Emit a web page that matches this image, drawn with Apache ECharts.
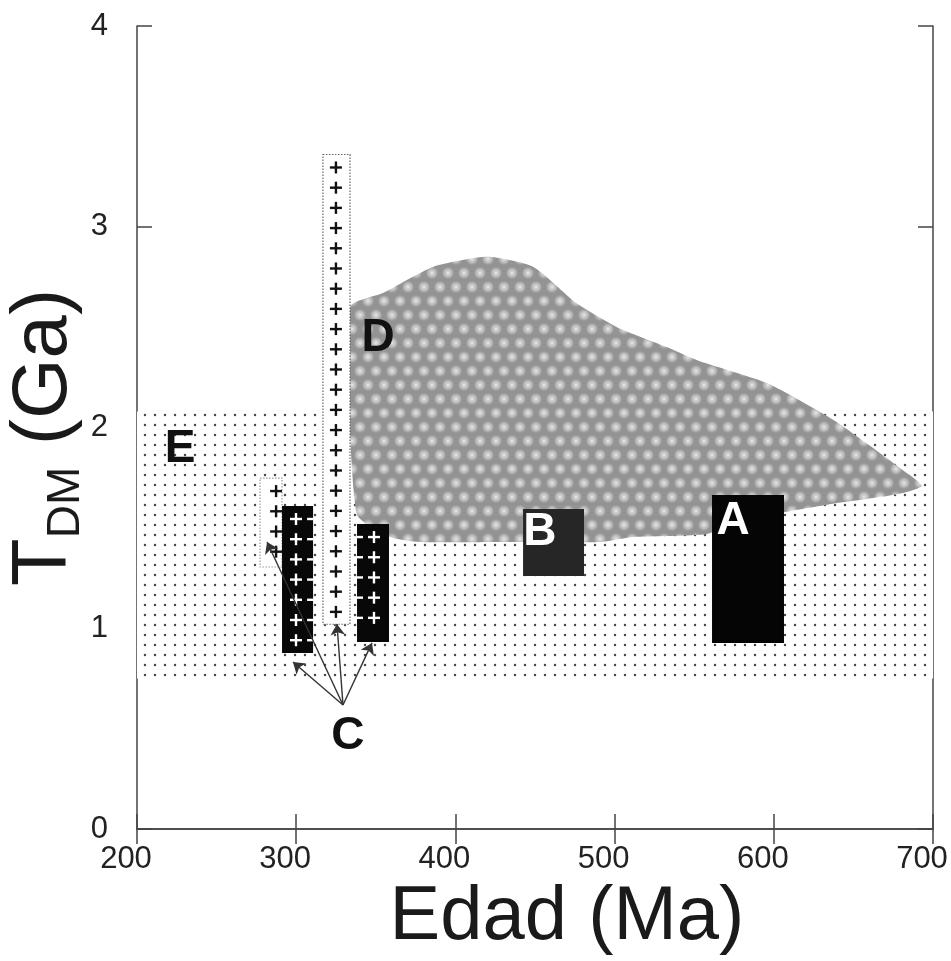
<!DOCTYPE html>
<html><head><meta charset="utf-8">
<script src="https://cdn.jsdelivr.net/npm/echarts@6/dist/echarts.min.js"></script>
<style>html,body{margin:0;padding:0;background:#fff}#chart{width:951px;height:961px}</style>
</head><body><div id="chart"></div>
<script>
// ---- data ----
const xTicks = [200, 300, 400, 500, 600, 700];
const yTicks = [0, 1, 2, 3, 4];
// field E : x range and T_DM range
const zoneEX = [200, 700];
const zoneEY = [0.75, 2.08];
// field D outline (top edge left->right, then bottom edge right->left)
const blobX = [334, 354.5, 386, 420, 449, 476, 501.5, 533, 553.6, 596, 637, 658.5, 679, 693, 679, 637, 608, 585, 558, 511.6, 491, 428, 378, 359, 338];
const blobY = [2.60, 2.67, 2.80, 2.85, 2.80, 2.62, 2.50, 2.40, 2.33, 2.22, 2.04, 1.92, 1.80, 1.71, 1.67, 1.62, 1.58, 1.55, 1.47, 1.455, 1.43, 1.43, 1.43, 1.455, 1.57];
// rectangles: age range (Ma) and T_DM range (Ga)
const boxNames = ['Ctall', 'Csmall', 'A', 'B', 'C1', 'C2'];
const boxAgeMin = [316.8, 277.3, 561.2, 442.5, 291.1, 338.2];
const boxAgeMax = [333.8, 291.1, 606.4, 480.8, 310.6, 358.3];
const boxTdmMin = [1.02, 1.305, 0.927, 1.26, 0.877, 0.931];
const boxTdmMax = [3.36, 1.748, 1.664, 1.594, 1.609, 1.519];
// annotation letters
const labelText = ['A', 'B', 'C', 'D', 'E'];
const labelAge = [574.4, 453.1, 332.5, 351.4, 227];
const labelTdm = [1.534, 1.48, 0.463, 2.446, 1.89];
// arrows from "C" to the C boxes
const arrowFrom = [329.4, 0.618];
const arrowToAge = [281.7, 298, 325.6, 347.6];
const arrowToTdm = [1.43, 0.832, 1.021, 0.927];

// ---- styles ----
const FONT = 'Liberation Sans';
const boxStyle = {
  Ctall:  { fill: '#fff', stroke: '#666', lw: 1.2, dash: [1.5, 1.5], plus: '#111', cols: [0.48] },
  Csmall: { fill: '#fff', stroke: '#999', lw: 1.2, dash: [1.5, 1.5], plus: '#111', cols: [0.73] },
  A:      { fill: '#050505', stroke: null, lw: 0, plus: null, cols: [] },
  B:      { fill: '#262626', stroke: null, lw: 0, plus: null, cols: [] },
  C1:     { fill: '#080808', stroke: null, lw: 0, plus: '#fff', cols: [0.45, 1.0] },
  C2:     { fill: '#080808', stroke: null, lw: 0, plus: '#fff', cols: [0.0, 0.53] }
};
const labelColor = { A: '#fff', B: '#fff', C: '#111', D: '#111', E: '#111' };

function dotPattern() {
  const c = document.createElement('canvas'); c.width = 10; c.height = 10;
  const g = c.getContext('2d');
  g.fillStyle = '#fff'; g.fillRect(0, 0, 10, 10);
  g.fillStyle = '#4a4a4a'; g.beginPath(); g.arc(5, 5, 1.25, 0, Math.PI * 2); g.fill();
  return c;
}
function bubblePattern() {
  const w = 16, h = 28;
  const c = document.createElement('canvas'); c.width = w; c.height = h;
  const g = c.getContext('2d');
  g.fillStyle = '#939393'; g.fillRect(0, 0, w, h);
  const spots = [[8, 7], [0, 21], [16, 21], [0, -7], [16, -7], [8, 35]];
  spots.forEach(([sx, sy]) => {
    const gr = g.createRadialGradient(sx, sy, 0, sx, sy, 7);
    gr.addColorStop(0, 'rgba(238,238,238,0.95)');
    gr.addColorStop(0.6, 'rgba(205,205,205,0.6)');
    gr.addColorStop(1, 'rgba(147,147,147,0)');
    g.fillStyle = gr; g.beginPath(); g.arc(sx, sy, 7, 0, Math.PI * 2); g.fill();
  });
  return c;
}
const dotFill = { image: dotPattern(), repeat: 'repeat' };
const bubbleFill = { image: bubblePattern(), repeat: 'repeat' };

const chart = echarts.init(document.getElementById('chart'), null, { renderer: 'canvas' });

const axisCommon = {
  type: 'value', splitLine: { show: false },
  axisLine: { show: true, lineStyle: { color: '#444', width: 1.5 } },
  axisTick: { show: true, inside: true, length: 15, lineStyle: { color: '#444', width: 1.5 } }
};

const option = {
  animation: false,
  backgroundColor: '#fff',
  grid: { left: 137, right: 18, top: 26, bottom: 132, containLabel: false, outerBoundsMode: 'none' },
  xAxis: [
    Object.assign({}, axisCommon, {
      position: 'bottom', min: xTicks[0], max: xTicks[xTicks.length - 1], interval: 100,
      axisLabel: { fontSize: 31, color: '#222', fontFamily: FONT, margin: 15, padding: [0, 22, 0, 0] },
      name: 'Edad (Ma)', nameLocation: 'middle', nameGap: 47,
      nameTextStyle: { fontSize: 76, color: '#1a1a1a', fontFamily: FONT, padding: [0, 0, 0, 64] }
    }),
    Object.assign({}, axisCommon, {
      position: 'top', min: xTicks[0], max: xTicks[xTicks.length - 1], interval: 100,
      axisLabel: { show: false }
    })
  ],
  yAxis: [
    Object.assign({}, axisCommon, {
      position: 'left', min: yTicks[0], max: yTicks[yTicks.length - 1], interval: 1,
      axisLabel: { fontSize: 31, color: '#222', fontFamily: FONT, margin: 29 },
      name: '{t|T}{s|DM}{t| (Ga)}', nameLocation: 'middle', nameGap: 48, nameRotate: 90,
      nameMoveOverlap: false,
      nameTextStyle: {
        color: '#1a1a1a', fontFamily: FONT, padding: [0, 20, 0, 0],
        rich: {
          t: { fontSize: 78, fontFamily: FONT, color: '#1a1a1a', lineHeight: 90, verticalAlign: 'middle' },
          s: { fontSize: 46, fontFamily: FONT, color: '#1a1a1a', verticalAlign: 'bottom' }
        }
      }
    }),
    Object.assign({}, axisCommon, {
      position: 'right', min: yTicks[0], max: yTicks[yTicks.length - 1], interval: 1,
      axisLabel: { show: false }
    })
  ],
  series: [
    { // field E (dotted)
      type: 'custom', name: 'E', clip: true, z: 1,
      data: [[zoneEX[0], zoneEX[1], zoneEY[0], zoneEY[1]]],
      encode: { x: [0, 1], y: [2, 3] },
      renderItem: function (params, api) {
        const p0 = api.coord([api.value(0), api.value(3)]);
        const p1 = api.coord([api.value(1), api.value(2)]);
        return { type: 'rect', shape: { x: p0[0], y: p0[1], width: p1[0] - p0[0], height: p1[1] - p0[1] },
          style: { fill: dotFill } };
      }
    },
    { // field D (grey blob)
      type: 'custom', name: 'D', clip: true, z: 2,
      data: [[blobX[0], blobY[0]]],
      renderItem: function (params, api) {
        const pts = blobX.map((x, i) => api.coord([x, blobY[i]]));
        return { type: 'polygon', shape: { points: pts, smooth: 0.2 }, style: { fill: bubbleFill } };
      }
    },
    { // rectangles A, B, C
      type: 'custom', name: 'boxes', clip: true, z: 3,
      data: boxNames.map((n, i) => [boxAgeMin[i], boxAgeMax[i], boxTdmMin[i], boxTdmMax[i], i]),
      encode: { x: [0, 1], y: [2, 3] },
      renderItem: function (params, api) {
        const i = api.value(4);
        const st = boxStyle[boxNames[i]];
        const p0 = api.coord([api.value(0), api.value(3)]);
        const p1 = api.coord([api.value(1), api.value(2)]);
        const x = p0[0], y = p0[1], w = p1[0] - p0[0], h = p1[1] - p0[1];
        const children = [{ type: 'rect', shape: { x, y, width: w, height: h },
          style: { fill: st.fill, stroke: st.stroke, lineWidth: st.lw, lineDash: st.dash } }];
        if (st.plus) {
          for (let cy = y + 13; cy <= y + h - 5; cy += 20.2) {
            st.cols.forEach(f => {
              const cx = x + f * w;
              children.push({ type: 'line', shape: { x1: Math.max(x, cx - 6), y1: cy, x2: Math.min(x + w, cx + 6), y2: cy },
                style: { stroke: st.plus, lineWidth: 2.4 } });
              if (cx > x + 2 && cx < x + w - 2) {
                children.push({ type: 'line', shape: { x1: cx, y1: cy - 6, x2: cx, y2: cy + 6 },
                  style: { stroke: st.plus, lineWidth: 2.4 } });
              }
            });
          }
        }
        return { type: 'group', children };
      }
    },
    { // arrows from C
      type: 'lines', coordinateSystem: 'cartesian2d', z: 4,
      symbol: ['none', 'arrow'], symbolSize: [0, 11],
      lineStyle: { color: '#333', width: 1.4, opacity: 1 },
      data: arrowToAge.map((a, i) => ({ coords: [arrowFrom, [a, arrowToTdm[i]]] }))
    },
    { // letters
      type: 'custom', name: 'letters', z: 5, clip: false,
      data: labelText.map((t, i) => [labelAge[i], labelTdm[i], i]),
      encode: { x: 0, y: 1 },
      renderItem: function (params, api) {
        const p = api.coord([api.value(0), api.value(1)]);
        const t = labelText[api.value(2)];
        return { type: 'text', x: p[0], y: p[1],
          style: { text: t, fill: labelColor[t], font: 'bold 46px "' + FONT + '"', align: 'center', verticalAlign: 'middle' } };
      }
    }
  ]
};
chart.setOption(option);
</script>
</body></html>
